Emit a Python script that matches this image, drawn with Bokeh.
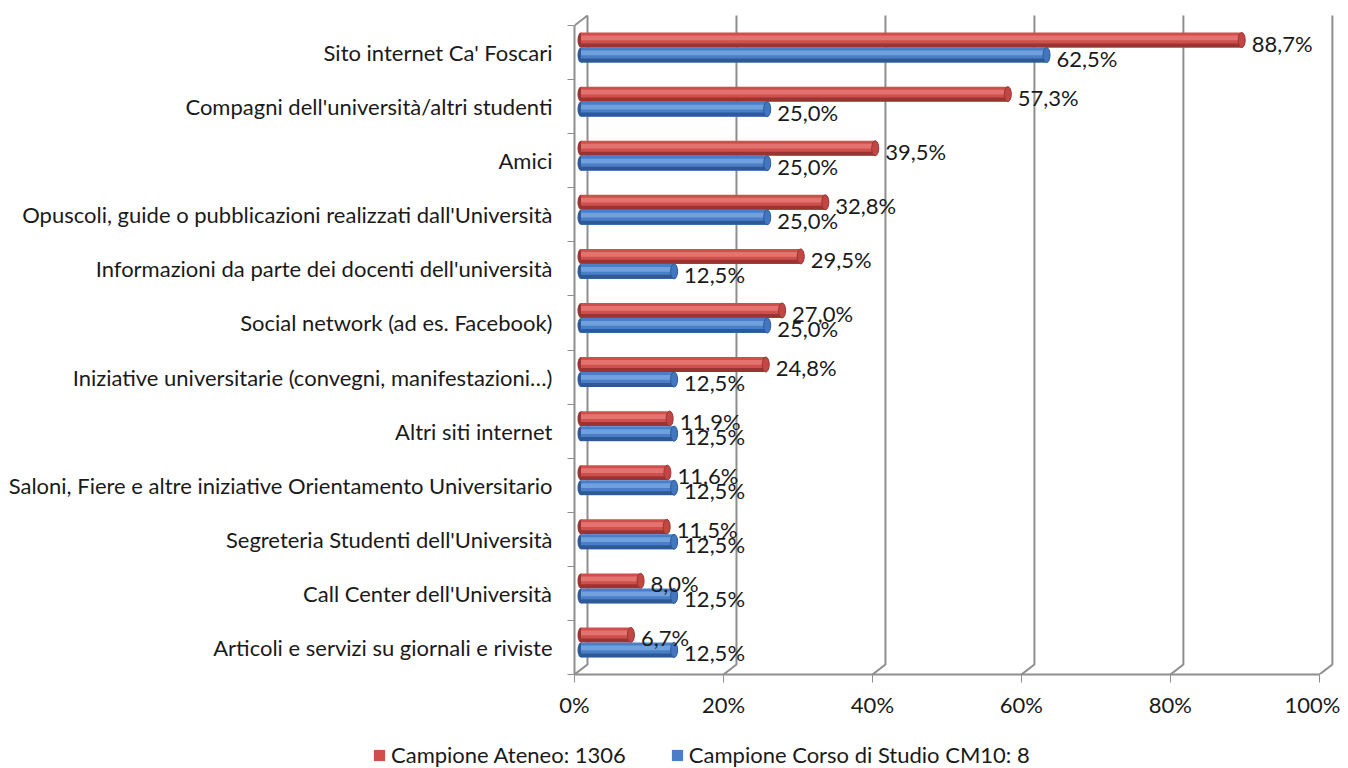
from bokeh.plotting import figure
from bokeh.layouts import column
from bokeh.models import Range1d, FixedTicker, Legend, LegendItem, ColumnDataSource
from bokeh.embed import file_html
from bokeh.resources import INLINE
from bokeh.core.properties import value

categories = [
    "Sito internet Ca' Foscari",
    "Compagni dell'università/altri studenti",
    "Amici",
    "Opuscoli, guide o pubblicazioni realizzati dall'Università",
    "Informazioni da parte dei docenti dell'università",
    "Social network (ad es. Facebook)",
    "Iniziative universitarie (convegni, manifestazioni…)",
    "Altri siti internet",
    "Saloni, Fiere e altre iniziative Orientamento Universitario",
    "Segreteria Studenti dell'Università",
    "Call Center dell'Università",
    "Articoli e servizi su giornali e riviste",
]
ateneo = [88.7, 57.3, 39.5, 32.8, 29.5, 27.0, 24.8, 11.9, 11.6, 11.5, 8.0, 6.7]
corso = [62.5, 25.0, 25.0, 25.0, 12.5, 25.0, 12.5, 12.5, 12.5, 12.5, 12.5, 12.5]
series_names = ["Campione Ateneo: 1306", "Campione Corso di Studio CM10: 8"]
x_ticks = [0, 20, 40, 60, 80, 100]
x_tick_labels = ["0%", "20%", "40%", "60%", "80%", "100%"]

FONT = "Lato"
FS = "22px"
TXT = "#1a1a1a"
GRID = "#8e8e8e"
RED = ("#cf4f4c", "#e4736f", "#9a3432", "#c24744")
BLUE = ("#4a7fc8", "#70a0de", "#2d5a96", "#4276c0")

n = len(categories)
FRAME_W, FRAME_H = 762, 660
X_END = 102.3
PXX = FRAME_W / X_END
ROWS = 12.204
PXY = FRAME_H / ROWS
DXB = 13 / PXX          # depth offset (back wall) in x data units
DYB = 10 / PXY          # depth offset in y data units
DXM, DYM = DXB / 2, DYB / 2
BAR_H = 15 / PXY

p = figure(width=1340, height=740, output_backend="svg", toolbar_location=None,
           x_range=Range1d(0, X_END), y_range=Range1d(-0.5, -0.5 + ROWS),
           min_border_left=574, min_border_right=4, min_border_top=14, min_border_bottom=66)
p.outline_line_color = None
p.xgrid.visible = False
p.ygrid.visible = False
p.background_fill_color = "white"
p.border_fill_color = "white"
p.frame_align = False

# 3D walls: back-wall gridlines with diagonal feet to the floor
gx, gy = [], []
top_y = n - 0.5 + DYB
for t in x_ticks:
    gx.append([t + DXB, t + DXB, t])
    gy.append([top_y, -0.5 + DYB, -0.5])
p.multi_line(gx, gy, line_color=GRID, line_width=2)
# left wall top edge
p.line([0, DXB], [n - 0.5, top_y], line_color=GRID, line_width=2)

yc = [n - 1 - i for i in range(n)]
y_red = [y + DYM + BAR_H / 2 for y in yc]
y_blue = [y + DYM - BAR_H / 2 for y in yc]

def cylinder(vals, ys, cols):
    main, light, dark, cap = cols
    src = ColumnDataSource(dict(y=ys, left=[DXM] * n, right=[v + DXM for v in vals],
                                y_hi=[y + BAR_H * 0.14 for y in ys],
                                y_lo=[y - BAR_H * 0.36 for y in ys]))
    p.ellipse(x="left", y="y", width=7, height=BAR_H, width_units="screen",
              source=src, fill_color=dark, line_color=None)
    p.hbar(y="y", left="left", right="right", height=BAR_H, source=src,
           fill_color=main, line_color=None)
    p.hbar(y="y_hi", left="left", right="right", height=BAR_H * 0.32, source=src,
           fill_color=light, line_color=None)
    p.hbar(y="y_lo", left="left", right="right", height=BAR_H * 0.26, source=src,
           fill_color=dark, line_color=None)
    p.ellipse(x="right", y="y", width=7, height=BAR_H, width_units="screen",
              source=src, fill_color=cap, line_color=dark, line_width=1)

cylinder(ateneo, y_red, RED)
cylinder(corso, y_blue, BLUE)

def fmt(v):
    return f"{v:.1f}".replace(".", ",") + "%"

lab = ColumnDataSource(dict(
    x=[v + DXM for v in ateneo] + [v + DXM for v in corso],
    y=y_red + y_blue,
    t=[fmt(v) for v in ateneo] + [fmt(v) for v in corso]))
p.text(x="x", y="y", text="t", source=lab, x_offset=10, y_offset=3,
       text_font=value(FONT), text_font_size=FS, text_color=TXT,
       text_baseline="middle", text_align="left")

# x axis (front floor edge)
xa = p.xaxis[0]
xa.ticker = FixedTicker(ticks=x_ticks)
xa.major_label_overrides = {t: l for t, l in zip(x_ticks, x_tick_labels)}
xa.bounds = (0, 100)
xa.axis_line_color = GRID
xa.axis_line_width = 2
xa.major_tick_line_color = GRID
xa.major_tick_line_width = 1
xa.major_tick_out = 8
xa.major_tick_in = 0
xa.minor_tick_line_color = None
xa.major_label_standoff = 8
xa.major_label_text_font = FONT
xa.major_label_text_font_size = FS
xa.major_label_text_color = TXT

# y axis (front left edge)
ya = p.yaxis[0]
ya.ticker = FixedTicker(ticks=yc, minor_ticks=[k - 0.5 for k in range(n + 1)])
ya.major_label_overrides = {y: c for y, c in zip(yc, categories)}
ya.bounds = (-0.5, n - 0.5)
ya.axis_line_color = GRID
ya.axis_line_width = 2
ya.major_tick_line_color = None
ya.major_tick_out = 7
ya.major_tick_in = 0
ya.minor_tick_line_color = GRID
ya.minor_tick_out = 7
ya.minor_tick_in = 0
ya.major_label_standoff = 15
ya.major_label_text_font = FONT
ya.major_label_text_font_size = FS
ya.major_label_text_color = TXT

# legend strip below the chart
p2 = figure(width=1340, height=28, output_backend="svg", toolbar_location=None,
            x_range=Range1d(0, 1), y_range=Range1d(0, 1),
            x_axis_type=None, y_axis_type=None, min_border=0)
p2.outline_line_color = None
p2.xgrid.visible = False
p2.ygrid.visible = False
p2.frame_align = False
p2.background_fill_color = "white"
p2.border_fill_color = "white"
# legend proxies placed outside the visible range
proxy = dict(y=[-5], left=[0], right=[1])
lr = p2.hbar(y="y", left="left", right="right", height=1,
             source=ColumnDataSource(proxy), fill_color=RED[0], line_color=None)
lb = p2.hbar(y="y", left="left", right="right", height=1,
             source=ColumnDataSource(dict(proxy)), fill_color=BLUE[0], line_color=None)
legend = Legend(items=[LegendItem(label=series_names[0], renderers=[lr]),
                       LegendItem(label=series_names[1], renderers=[lb])],
                orientation="horizontal", location=(372, 0),
                glyph_width=14, glyph_height=14, label_standoff=5, spacing=44,
                padding=0, margin=0, border_line_color=None, background_fill_alpha=0,
                label_text_font=FONT, label_text_font_size=FS, label_text_color=TXT,
                label_height=20)
p2.add_layout(legend, "center")

layout = column(p, p2, spacing=0)
open("out.html", "w").write(file_html(layout, INLINE))
